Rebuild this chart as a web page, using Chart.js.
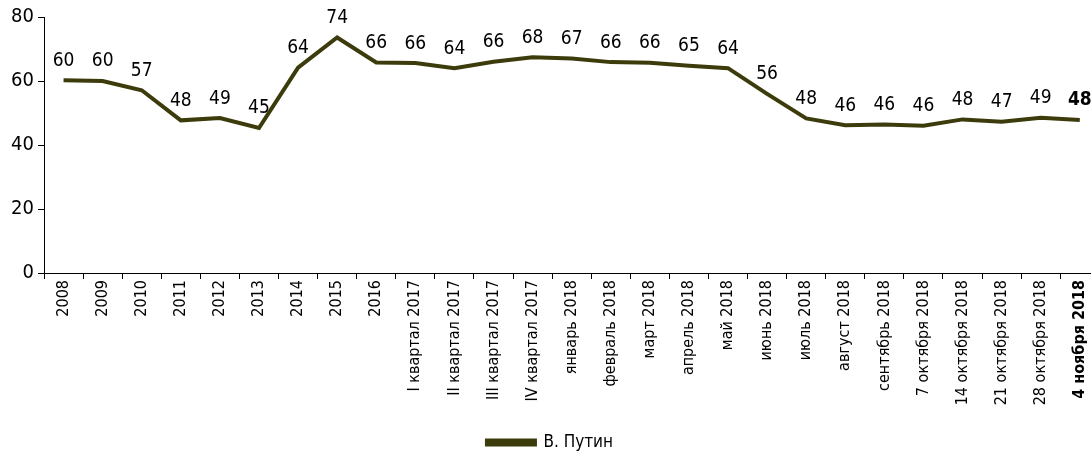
<!DOCTYPE html>
<html>
<head>
<meta charset="utf-8">
<script src="https://cdn.jsdelivr.net/npm/chart.js@4/dist/chart.umd.min.js"></script>
<style>
  html, body { margin: 0; padding: 0; background: #fff; overflow: hidden; }
  #wrap { width: 1100px; height: 453px; }
</style>
</head>
<body>
<div id="wrap"><canvas id="chart"></canvas></div>
<script>
// Периоды опроса
const periods = [
    '2008', '2009', '2010', '2011', '2012', '2013', '2014', '2015', '2016',
    'I квартал 2017', 'II квартал 2017', 'III квартал 2017', 'IV квартал 2017',
    'январь 2018', 'февраль 2018', 'март 2018', 'апрель 2018', 'май 2018',
    'июнь 2018', 'июль 2018', 'август 2018', 'сентябрь 2018',
    '7 октября 2018', '14 октября 2018', '21 октября 2018', '28 октября 2018',
    '4 ноября 2018'
];

// Значения линии (оценка по рисунку)
const putinValues = [
    60.2, 60.0, 57.1, 47.7, 48.4, 45.3, 64.2, 73.6, 65.8,
    65.6, 64.0, 66.0, 67.4,
    67.0, 65.9, 65.7, 64.8, 64.0,
    56.0, 48.3, 46.2, 46.4,
    46.0, 48.0, 47.3, 48.5,
    47.8
];

// Подписи над точками
const putinLabels = [
    60, 60, 57, 48, 49, 45, 64, 74, 66,
    66, 64, 66, 68,
    67, 66, 66, 65, 64,
    56, 48, 46, 46,
    46, 48, 47, 49,
    48
];

const yTicks = [0, 20, 40, 60, 80];

const lineColor = '#3c3b0b';
const fontFamily = "'Liberation Sans Narrow', 'DejaVu Sans Condensed', 'Liberation Sans', sans-serif";
const lastIndex = periods.length - 1;

// Плагин для подписей значений
const valueLabels = {
    id: 'valueLabels',
    afterDatasetsDraw(chart) {
        const ctx = chart.ctx;
        const meta = chart.getDatasetMeta(0);
        ctx.save();
        ctx.fillStyle = '#000';
        ctx.textAlign = 'center';
        ctx.textBaseline = 'bottom';
        meta.data.forEach((pt, i) => {
            const bold = i === lastIndex;
            ctx.font = (bold ? 'bold ' : '') + '19px ' + fontFamily;
            ctx.fillText(String(putinLabels[i]), pt.x, pt.y - 10);
        });
        ctx.restore();
    }
};

const ctx = document.getElementById('chart').getContext('2d');
new Chart(ctx, {
    type: 'line',
    data: {
        labels: periods,
        datasets: [{
            label: 'В. Путин',
            data: putinValues,
            borderColor: lineColor,
            backgroundColor: lineColor,
            borderWidth: 4,
            pointRadius: 0,
            tension: 0,
            fill: false
        }]
    },
    options: {
        responsive: true,
        maintainAspectRatio: false,
        animation: false,
        layout: { padding: { top: 17, right: 0, left: 0, bottom: -8 } },
        scales: {
            x: {
                offset: true,
                grid: {
                    display: true,
                    drawOnChartArea: false,
                    offset: true,
                    color: '#000',
                    tickLength: 6
                },
                border: { color: '#000', width: 1 },
                ticks: {
                    color: '#000',
                    autoSkip: false,
                    minRotation: 90,
                    maxRotation: 90,
                    padding: 1,
                    font: c => ({
                        family: fontFamily,
                        size: 16,
                        weight: c.index === lastIndex ? 'bold' : 'normal'
                    })
                },
                afterFit(scale) { scale.height = 159; }
            },
            y: {
                min: 0,
                max: 80,
                afterBuildTicks(scale) {
                    scale.ticks = yTicks.map(v => ({ value: v }));
                },
                grid: {
                    display: true,
                    drawOnChartArea: false,
                    color: '#000',
                    tickLength: 6
                },
                border: { color: '#000', width: 1 },
                ticks: {
                    color: '#000',
                    padding: 4,
                    font: { family: fontFamily, size: 20 }
                },
                afterFit(scale) { scale.width = 44; }
            }
        },
        plugins: {
            legend: {
                position: 'bottom',
                labels: {
                    boxWidth: 48,
                    boxHeight: 4,
                    color: '#000',
                    padding: 2,
                    font: { family: fontFamily, size: 17 }
                }
            },
            tooltip: { enabled: false }
        }
    },
    plugins: [valueLabels]
});
</script>
</body>
</html>
